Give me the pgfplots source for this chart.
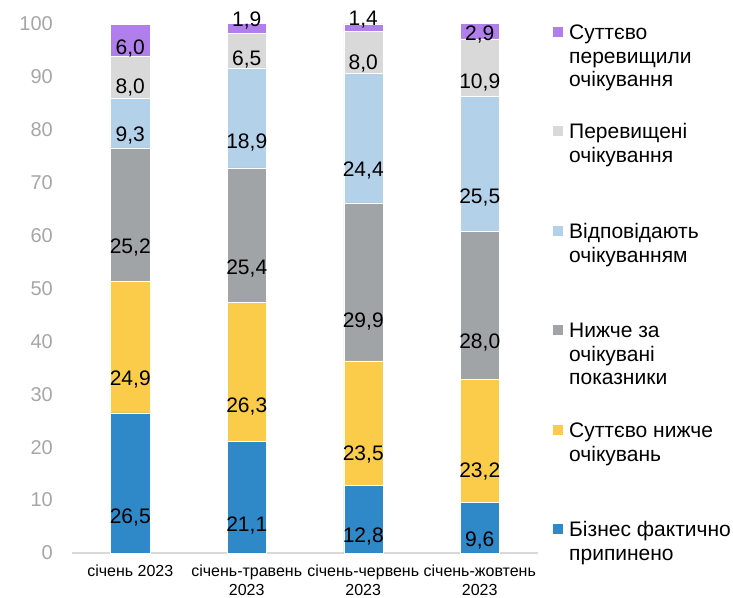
\documentclass[border=0pt]{standalone}
\usepackage{fontspec}
\setmainfont{Liberation Sans}
\usepackage{pgfplots}
\usepackage{pgfplotstable}
\pgfplotsset{compat=1.18}
\definecolor{cBlue}{RGB}{47,136,200}
\definecolor{cYellow}{RGB}{251,203,74}
\definecolor{cDGray}{RGB}{160,164,167}
\definecolor{cLBlue}{RGB}{180,209,234}
\definecolor{cLGray}{RGB}{217,217,217}
\definecolor{cPurple}{RGB}{176,127,235}
\definecolor{cTick}{RGB}{166,166,166}
\definecolor{cAxis}{RGB}{217,217,217}

\makeatletter
\pgfplotsset{
  calc half/.code={%
    \pgfkeys{/pgf/fpu=true,/pgf/fpu/output format=fixed}%
    \pgfmathsetmacro\halfseg{ifthenelse(\pgfplotspointmeta<2.5,-8,0.25*\pgfplotspointmeta*10^\pgfplots@data@scale@trafo@EXPONENT@y*\pgfplots@y@veclength)}%
    \pgfkeys{/pgf/fpu=false}%
  },
}
\makeatother

\pgfplotstableread{
x a b c d e f
0 26.5 24.9 25.2 9.3 8.0 6.0
1 21.1 26.3 25.4 18.9 6.5 1.9
2 12.8 23.5 29.9 24.4 8.0 1.4
3 9.6 23.2 28.0 25.5 10.9 2.9
}\datatable

\newcommand{\lfont}{\fontsize{21bp}{24bp}\selectfont}

\begin{document}
\begin{tikzpicture}
\path[use as bounding box] (0,0) rectangle (733bp,598bp);
\begin{axis}[
  at={(72bp,45bp)}, anchor=south west,
  scale only axis, width=466bp, height=529bp,
  xmin=-0.5, xmax=3.5, ymin=0, ymax=100,
  ybar stacked, bar width=39bp,
  axis x line*=bottom, axis y line*=left,
  y axis line style={draw=none},
  x axis line style={draw=cAxis, line width=1.2bp, -},
  major tick length=0pt,
  xtick=data,
  xticklabels={{січень 2023},{січень-травень\\2023},{січень-червень\\2023},{січень-жовтень\\2023}},
  ytick={0,10,...,100},
  /pgf/number format/assume math mode=true,
  yticklabel style={font=\fontsize{20bp}{24bp}\selectfont, text=cTick, anchor=east, inner sep=0pt, xshift=-19bp},
  xticklabel style={font=\fontsize{16bp}{19bp}\selectfont, align=center, text=black, inner sep=0pt, yshift=-12bp},
  point meta=explicit,
  nodes near coords={\pgfmathprintnumber[use comma,fixed,fixed zerofill,precision=1]{\pgfplotspointmeta}},
  every node near coord/.append style={font=\lfont, text=black, /pgfplots/calc half, anchor=center, yshift=-\halfseg, inner sep=0pt},
  clip=false,
]
\addplot[fill=cBlue, draw=white, line width=0.5bp] table[x=x, y=a, meta=a] {\datatable};
\addplot[fill=cYellow, draw=white, line width=0.5bp] table[x=x, y=b, meta=b] {\datatable};
\addplot[fill=cDGray, draw=white, line width=0.5bp] table[x=x, y=c, meta=c] {\datatable};
\addplot[fill=cLBlue, draw=white, line width=0.5bp] table[x=x, y=d, meta=d] {\datatable};
\addplot[fill=cLGray, draw=white, line width=0.5bp] table[x=x, y=e, meta=e] {\datatable};
\addplot[fill=cPurple, draw=white, line width=0.5bp] table[x=x, y=f, meta=f] {\datatable};
\end{axis}
% legend
\fill[cPurple] (553bp,561bp) rectangle (563bp,571bp);
\node[anchor=base west, inner sep=0pt, font=\lfont] at (569bp,558bp) {Суттєво};
\node[anchor=base west, inner sep=0pt, font=\lfont] at (569bp,534.5bp) {перевищили};
\node[anchor=base west, inner sep=0pt, font=\lfont] at (569bp,511bp) {очікування};
\fill[cLGray] (553bp,462bp) rectangle (563bp,472bp);
\node[anchor=base west, inner sep=0pt, font=\lfont] at (569bp,459bp) {Перевищені};
\node[anchor=base west, inner sep=0pt, font=\lfont] at (569bp,435.5bp) {очікування};
\fill[cLBlue] (553bp,362bp) rectangle (563bp,372bp);
\node[anchor=base west, inner sep=0pt, font=\lfont] at (569bp,359bp) {Відповідають};
\node[anchor=base west, inner sep=0pt, font=\lfont] at (569bp,335.5bp) {очікуванням};
\fill[cDGray] (553bp,263bp) rectangle (563bp,273bp);
\node[anchor=base west, inner sep=0pt, font=\lfont] at (569bp,260bp) {Нижче за};
\node[anchor=base west, inner sep=0pt, font=\lfont] at (569bp,236.5bp) {очікувані};
\node[anchor=base west, inner sep=0pt, font=\lfont] at (569bp,213bp) {показники};
\fill[cYellow] (553bp,163bp) rectangle (563bp,173bp);
\node[anchor=base west, inner sep=0pt, font=\lfont] at (569bp,160bp) {Суттєво нижче};
\node[anchor=base west, inner sep=0pt, font=\lfont] at (569bp,136.5bp) {очікувань};
\fill[cBlue] (553bp,64bp) rectangle (563bp,74bp);
\node[anchor=base west, inner sep=0pt, font=\lfont] at (569bp,61bp) {Бізнес фактично};
\node[anchor=base west, inner sep=0pt, font=\lfont] at (569bp,37.5bp) {припинено};
\end{tikzpicture}
\end{document}
